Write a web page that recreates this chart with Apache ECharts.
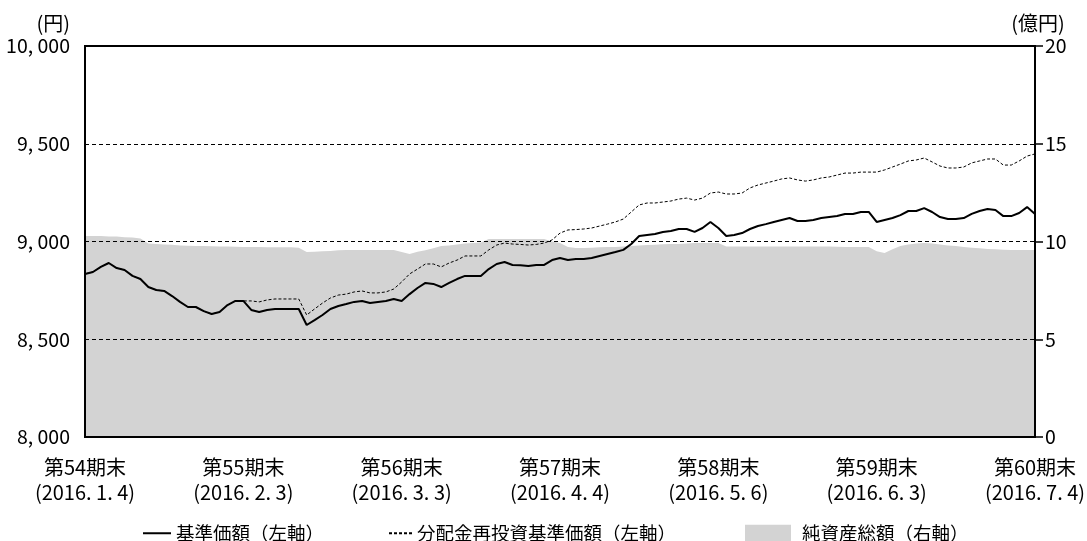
<!DOCTYPE html>
<html>
<head>
<meta charset="utf-8">
<script src="https://cdn.jsdelivr.net/npm/echarts@6/dist/echarts.min.js"></script>
<style>
  html, body { margin: 0; padding: 0; background: #fff; }
  #chart { width: 1087px; height: 541px; }
</style>
</head>
<body>
<div id="chart"></div>
<script>
// 期末ラベル（20営業日ごと）
var periodLabels = [
    '第54期末\n(2016. 1. 4)', '第55期末\n(2016. 2. 3)', '第56期末\n(2016. 3. 3)',
    '第57期末\n(2016. 4. 4)', '第58期末\n(2016. 5. 6)', '第59期末\n(2016. 6. 3)',
    '第60期末\n(2016. 7. 4)'
];

// 基準価額（円）
var navPrice = [
    8834, 8844, 8870, 8890, 8864, 8854, 8824, 8808, 8767, 8752,
    8747, 8721, 8691, 8665, 8665, 8644, 8629, 8639, 8675, 8696,
    8696, 8650, 8639, 8650, 8655, 8655, 8655, 8655, 8573, 8598,
    8624, 8655, 8670, 8680, 8691, 8696, 8685, 8691, 8696, 8706,
    8696, 8731, 8762, 8788, 8783, 8767, 8788, 8808, 8824, 8824,
    8824, 8859, 8885, 8895, 8880, 8878, 8875, 8880, 8880, 8905,
    8916, 8905, 8910, 8910, 8916, 8926, 8936, 8946, 8957, 8987,
    9028, 9033, 9038, 9049, 9054, 9064, 9064, 9049, 9069, 9100,
    9069, 9028, 9033, 9043, 9064, 9079, 9089, 9100, 9110, 9120,
    9105, 9105, 9110, 9120, 9125, 9130, 9141, 9141, 9151, 9151,
    9100, 9110, 9120, 9135, 9156, 9156, 9171, 9151, 9125, 9115,
    9115, 9120, 9141, 9156, 9166, 9161, 9130, 9130, 9146, 9176,
    9141
];

// 分配金再投資基準価額（円）
var reinvestPrice = [
    8834, 8844, 8870, 8890, 8864, 8854, 8824, 8808, 8767, 8752,
    8747, 8721, 8691, 8665, 8665, 8644, 8629, 8639, 8675, 8696,
    8696, 8696, 8691, 8701, 8706, 8706, 8706, 8706, 8624, 8655,
    8685, 8711, 8726, 8731, 8742, 8747, 8737, 8737, 8742, 8757,
    8793, 8834, 8859, 8885, 8885, 8870, 8890, 8905, 8926, 8926,
    8926, 8957, 8982, 8992, 8987, 8985, 8982, 8985, 8992, 9008,
    9043, 9059, 9061, 9064, 9069, 9079, 9089, 9100, 9115, 9151,
    9187, 9197, 9197, 9202, 9207, 9217, 9222, 9212, 9222, 9248,
    9253, 9243, 9243, 9248, 9274, 9289, 9299, 9309, 9320, 9325,
    9315, 9309, 9315, 9325, 9330, 9340, 9350, 9350, 9355, 9355,
    9355, 9366, 9381, 9396, 9412, 9417, 9427, 9407, 9386, 9376,
    9376, 9381, 9402, 9412, 9422, 9422, 9391, 9391, 9412, 9437,
    9448
];

// 純資産総額（億円）
var netAssets = [
    10.28, 10.28, 10.28, 10.25, 10.25, 10.22, 10.20, 10.15, 9.90, 9.87,
    9.85, 9.83, 9.80, 9.78, 9.77, 9.77, 9.76, 9.75, 9.74, 9.73,
    9.72, 9.72, 9.72, 9.70, 9.70, 9.70, 9.70, 9.68, 9.46, 9.48,
    9.50, 9.52, 9.55, 9.57, 9.57, 9.57, 9.57, 9.57, 9.57, 9.57,
    9.46, 9.36, 9.48, 9.55, 9.65, 9.77, 9.80, 9.85, 9.90, 9.92,
    9.95, 10.13, 10.13, 10.13, 10.13, 10.13, 10.13, 10.13, 10.13, 10.00,
    9.92, 9.72, 9.67, 9.67, 9.68, 9.70, 9.72, 9.72, 9.75, 9.77,
    9.80, 9.82, 9.84, 9.86, 9.87, 9.87, 9.90, 9.92, 9.92, 9.92,
    9.92, 9.75, 9.74, 9.74, 9.74, 9.74, 9.74, 9.74, 9.74, 9.74,
    9.74, 9.74, 9.74, 9.74, 9.74, 9.73, 9.72, 9.72, 9.72, 9.72,
    9.50, 9.41, 9.60, 9.77, 9.85, 9.90, 9.92, 9.90, 9.85, 9.80,
    9.77, 9.72, 9.68, 9.65, 9.62, 9.60, 9.58, 9.57, 9.57, 9.57,
    9.57
];

var fontFamily = "'Noto Sans CJK JP', sans-serif";

var myChart = echarts.init(document.getElementById('chart'));

var legendText = { fontSize: 18.5, fontFamily: fontFamily, color: '#000' };

var option = {
    backgroundColor: '#fff',
    animation: false,
    textStyle: { fontFamily: fontFamily, color: '#000' },
    grid: {
        left: 85, right: 52, top: 46, bottom: 104,
        outerBoundsMode: 'none',
        containLabel: false,
        show: true, z: 10,
        borderColor: '#000', borderWidth: 2,
        backgroundColor: 'transparent'
    },
    legend: [
        {
            left: 137, top: 519,
            itemWidth: 28, itemHeight: 14, itemGap: 0,
            itemStyle: { opacity: 0 },
            textStyle: legendText,
            data: ['基準価額（左軸）']
        },
        {
            left: 383, top: 519,
            itemWidth: 23, itemHeight: 14, itemGap: 0,
            itemStyle: { opacity: 0 },
            textStyle: legendText,
            data: ['分配金再投資基準価額（左軸）']
        },
        {
            left: 740, top: 519,
            itemWidth: 46, itemHeight: 17, itemGap: 0,
            textStyle: { fontSize: 18.5, fontFamily: fontFamily, color: '#000', padding: [0, 0, 0, 6] },
            data: [{ name: '純資産総額（右軸）', icon: 'rect' }]
        }
    ],
    xAxis: {
        type: 'category',
        boundaryGap: false,
        data: navPrice.map(function (v, i) { return String(i); }),
        axisLine: { show: false },
        axisTick: { show: false },
        axisLabel: {
            interval: function (i) { return i % 20 === 0; },
            formatter: function (v, i) { return periodLabels[i / 20] || ''; },
            showMinLabel: true, showMaxLabel: true,
            margin: 18,
            fontSize: 20, lineHeight: 25, color: '#000',
            fontFamily: fontFamily
        },
        splitLine: { show: false }
    },
    yAxis: [
        {
            type: 'value',
            min: 8000, max: 10000, interval: 500,
            z: 3,
            name: '(円)',
            nameLocation: 'end',
            nameGap: 13,
            nameTextStyle: { fontSize: 20, color: '#000', align: 'right', padding: [0, 15, 0, 0], fontFamily: fontFamily },
            axisLine: { show: false },
            axisTick: { show: false },
            axisLabel: {
                margin: 15,
                fontSize: 19.5, color: '#000', fontFamily: fontFamily,
                formatter: function (v) {
                    var k = Math.floor(v / 1000);
                    var r = String(v % 1000);
                    while (r.length < 3) r = '0' + r;
                    return k + ', ' + r;
                }
            },
            splitLine: {
                show: true,
                lineStyle: { color: '#000', width: 1, type: [4, 3] }
            }
        },
        {
            type: 'value',
            min: 0, max: 20, interval: 5,
            position: 'right',
            name: '(億円)',
            nameLocation: 'end',
            nameGap: 13,
            nameTextStyle: { fontSize: 20, color: '#000', align: 'center', padding: [0, 0, 0, 6], fontFamily: fontFamily },
            axisLine: { show: true, lineStyle: { color: '#000', width: 2 } },
            axisTick: { show: true, inside: false, length: 8, lineStyle: { color: '#000', width: 1.5 } },
            axisLabel: { margin: 10, fontSize: 19.5, color: '#000', fontFamily: fontFamily },
            splitLine: { show: false }
        }
    ],
    series: [
        {
            name: '純資産総額（右軸）',
            type: 'line',
            yAxisIndex: 1,
            data: netAssets,
            symbol: 'none',
            z: 1,
            itemStyle: { color: '#d3d3d3' },
            lineStyle: { width: 0, color: '#d3d3d3' },
            areaStyle: { color: '#d3d3d3', opacity: 1 }
        },
        {
            name: '分配金再投資基準価額（左軸）',
            type: 'line',
            yAxisIndex: 0,
            data: reinvestPrice,
            symbol: 'none',
            z: 5,
            itemStyle: { color: '#000' },
            lineStyle: { color: '#000', width: 1, type: [3, 2] }
        },
        {
            name: '基準価額（左軸）',
            type: 'line',
            yAxisIndex: 0,
            data: navPrice,
            symbol: 'none',
            z: 6,
            itemStyle: { color: '#000' },
            lineStyle: { color: '#000', width: 2 }
        }
    ]
};

myChart.setOption(option);
</script>
</body>
</html>
